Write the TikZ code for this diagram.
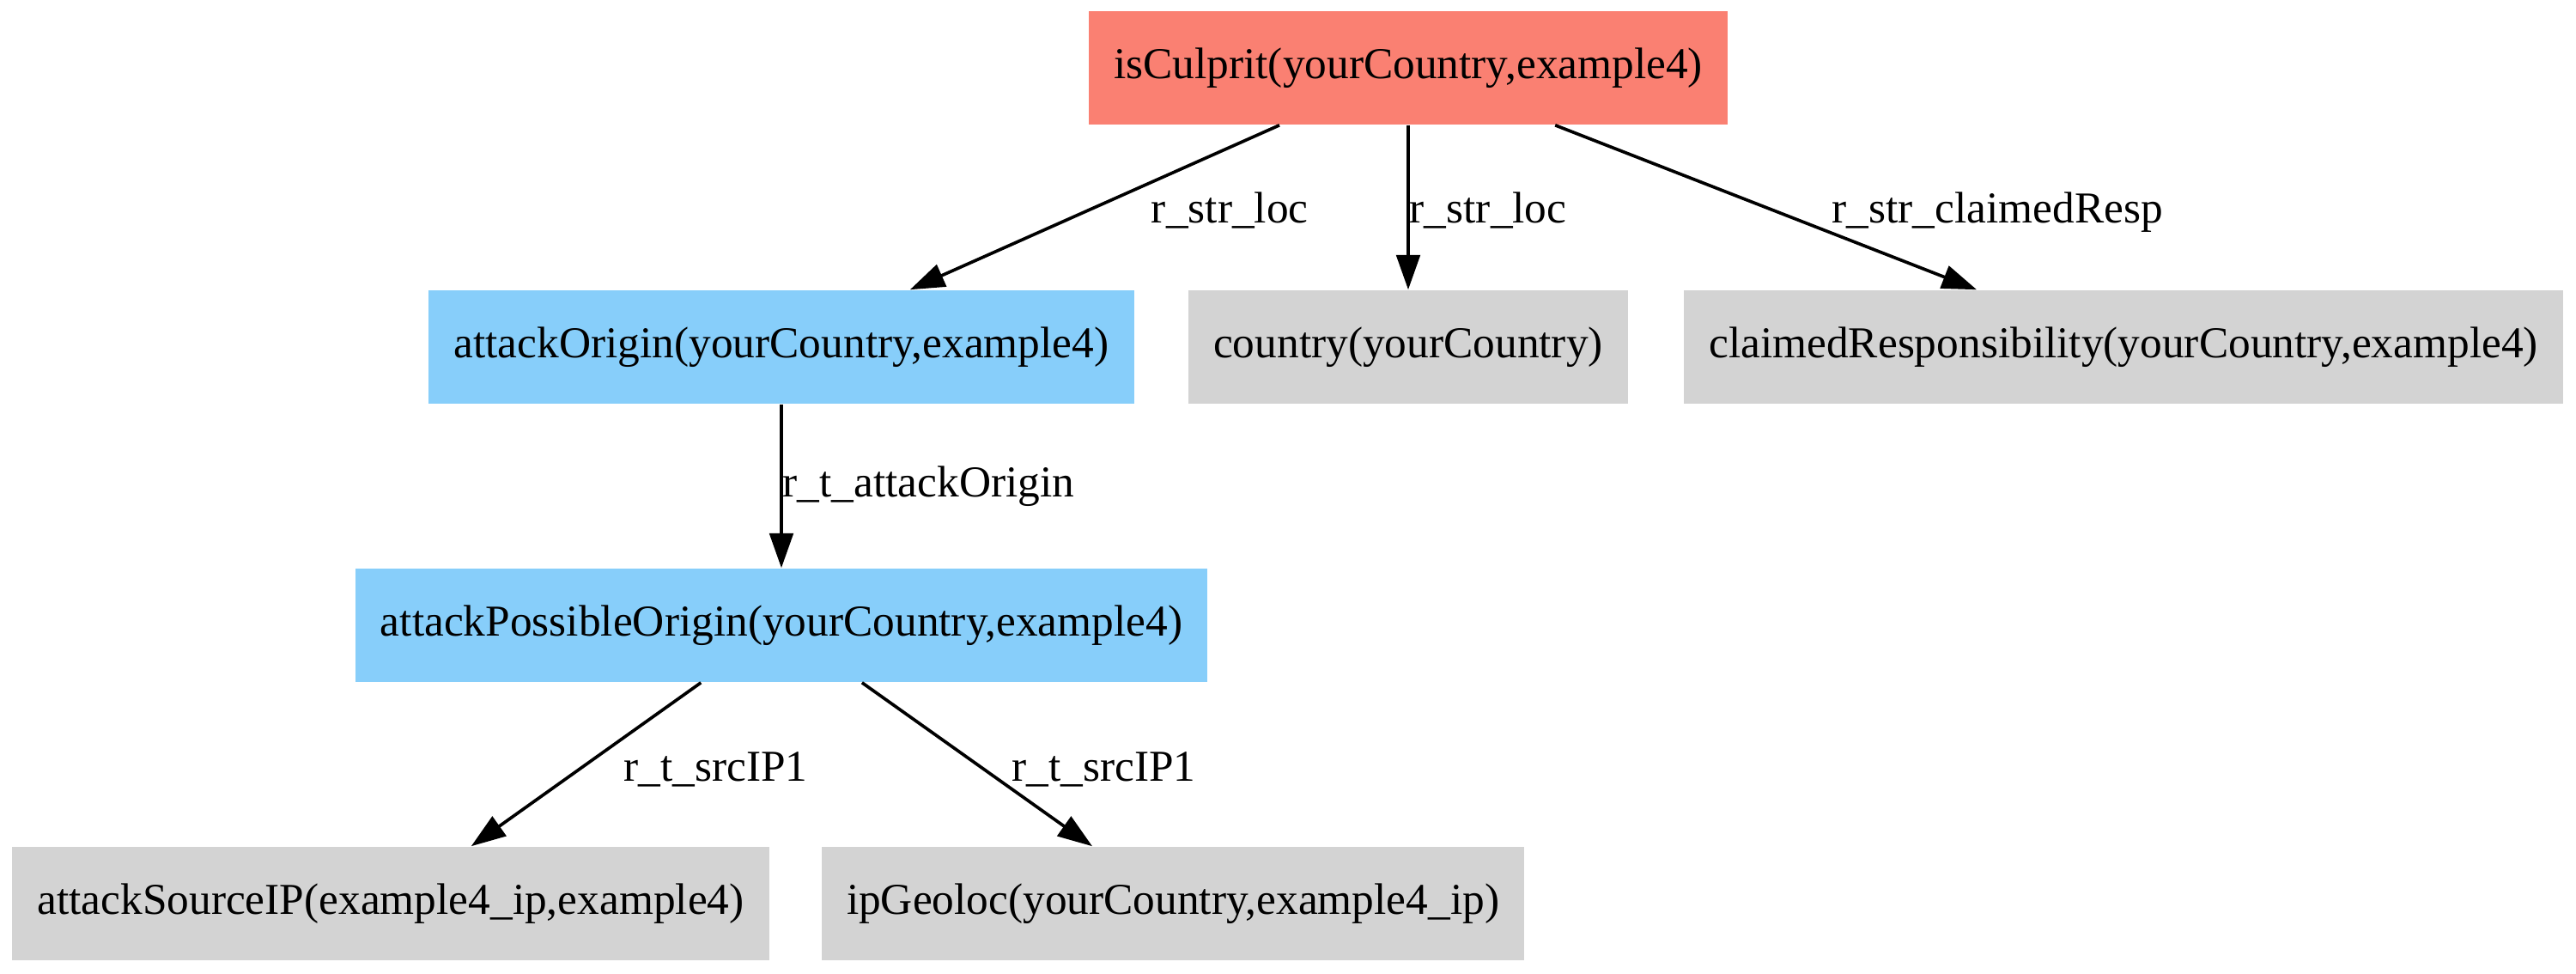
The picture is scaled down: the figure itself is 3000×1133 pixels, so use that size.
\documentclass[tikz,border=0pt]{standalone}
\usepackage{fontspec}
\setmainfont{Liberation Serif}
\usetikzlibrary{arrows.meta}

\definecolor{salmon}{HTML}{FA8072}
\definecolor{skyblue}{HTML}{87CEFA}
\definecolor{lightgrey}{HTML}{D3D3D3}

\begin{document}
\begin{tikzpicture}[x=0.2725pt, y=-0.2725pt,
    every node/.style={font=\fontsize{14}{16}\selectfont},
    fact/.style={rectangle, fill=#1, minimum height=36pt, inner xsep=8pt, inner ysep=0pt},
    lbl/.style={anchor=west, inner sep=0pt},
    rule/.style={line width=1pt, ->, >={Triangle[length=11pt, width=7.5pt]}}]
    \useasboundingbox (0,0) rectangle (3000,1133);

    % goal on top
    \node[fact=salmon] (culprit) at (1640,79) {isCulprit(yourCountry,example4)};

    % second row
    \node[fact=skyblue] (origin) at (910,404) {attackOrigin(yourCountry,example4)};
    \node[fact=lightgrey] (country) at (1640,404) {country(yourCountry)};
    \node[fact=lightgrey] (claimed) at (2473,404) {claimedResponsibility(yourCountry,example4)};

    % third row
    \node[fact=skyblue] (possible) at (910,728) {attackPossibleOrigin(yourCountry,example4)};

    % leaves
    \node[fact=lightgrey] (srcip) at (455,1052) {attackSourceIP(example4\_ip,example4)};
    \node[fact=lightgrey] (geoloc) at (1366,1052) {ipGeoloc(yourCountry,example4\_ip)};

    % rules
    \draw[rule] (culprit) -- node[lbl, xshift=17.5pt, yshift=-1pt] {r\_str\_loc} (origin);
    \draw[rule] (culprit) -- node[lbl, yshift=-1pt] {r\_str\_loc} (country);
    \draw[rule] (culprit) -- node[lbl, xshift=20.5pt, yshift=-1.5pt] {r\_str\_claimedResp} (claimed);
    \draw[rule] (origin) -- node[lbl] {r\_t\_attackOrigin} (possible);
    \draw[rule] (possible) -- node[lbl, xshift=11.5pt, yshift=-1.5pt] {r\_t\_srcIP1} (srcip);
    \draw[rule] (possible) -- node[lbl, xshift=10.5pt, yshift=-1.5pt] {r\_t\_srcIP1} (geoloc);
\end{tikzpicture}
\end{document}
